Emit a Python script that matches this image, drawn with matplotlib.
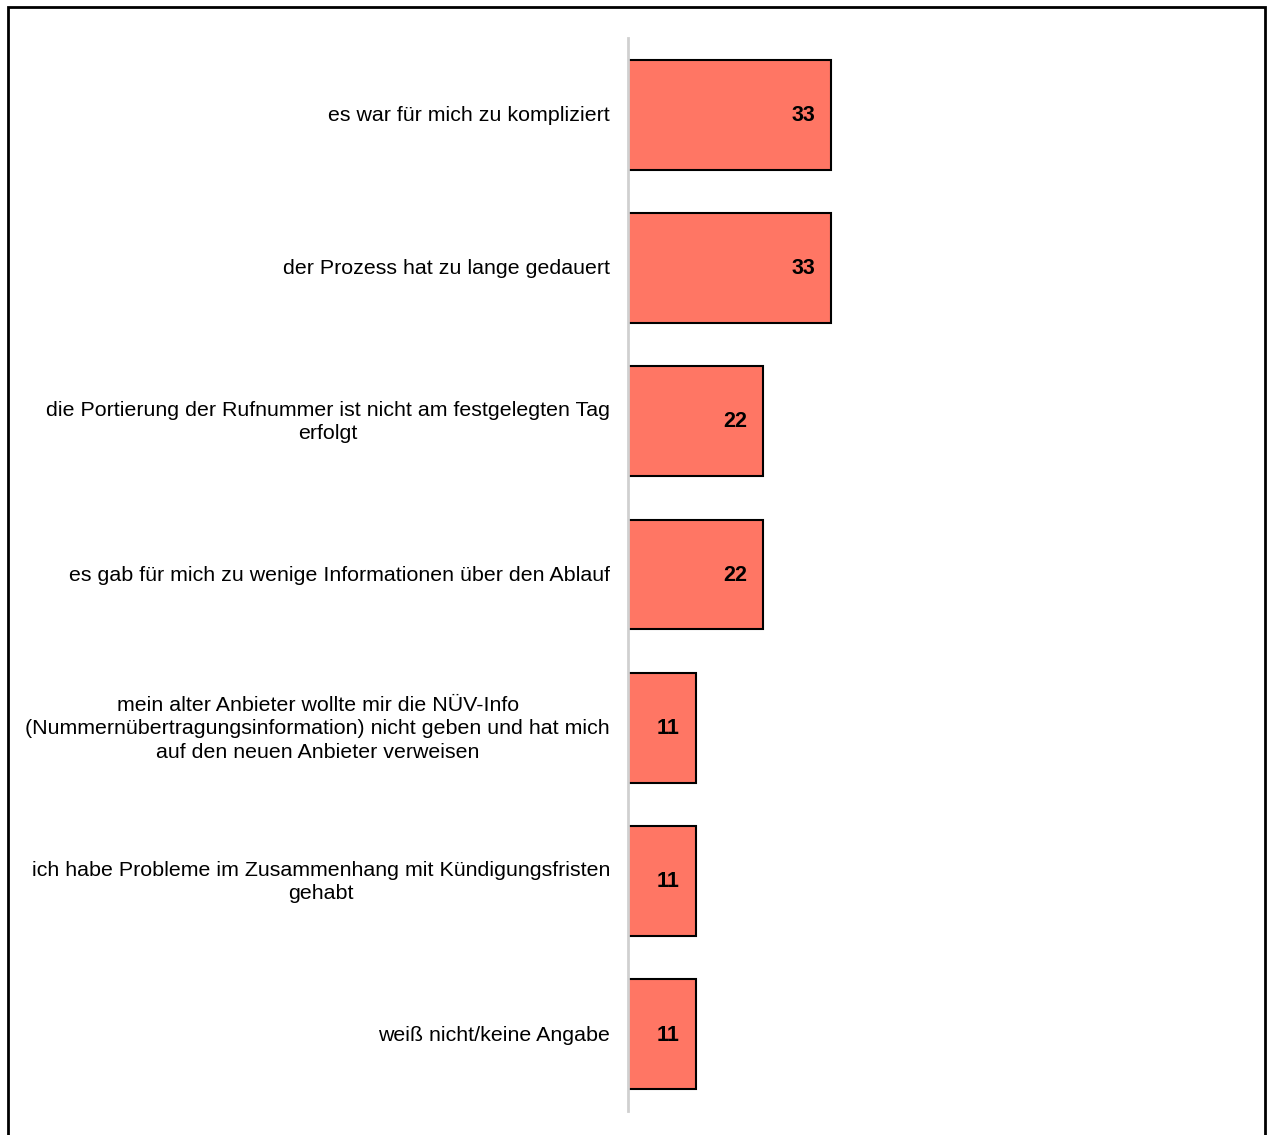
import matplotlib
matplotlib.use("Agg")
import matplotlib.pyplot as plt
from matplotlib.patches import Rectangle
from matplotlib.transforms import ScaledTranslation

categories = [
    "es war für mich zu kompliziert",
    "der Prozess hat zu lange gedauert",
    "die Portierung der Rufnummer ist nicht am festgelegten Tag\nerfolgt",
    "es gab für mich zu wenige Informationen über den Ablauf",
    "mein alter Anbieter wollte mir die NÜV-Info\n(Nummernübertragungsinformation) nicht geben und hat mich\nauf den neuen Anbieter verweisen",
    "ich habe Probleme im Zusammenhang mit Kündigungsfristen\ngehabt",
    "weiß nicht/keine Angabe",
]
values = [33, 33, 22, 22, 11, 11, 11]

W, H = 1270, 1135
fig = plt.figure(figsize=(W / 100, H / 100), dpi=100)
plt.rcParams["font.family"] = ["Liberation Sans", "DejaVu Sans"]

# outer frame (runs off the bottom edge)
fig.patches.append(Rectangle((8 / W, -0.01), (1265 - 8) / W, 1.01 - 7 / H,
                             transform=fig.transFigure, fill=False,
                             edgecolor="black", linewidth=2))

ax_left, ax_right = 628, 1250
ax_top, ax_bottom = 38, 1111
ax = fig.add_axes([ax_left / W, 1 - ax_bottom / H,
                   (ax_right - ax_left) / W, (ax_bottom - ax_top) / H])

px_per_unit = 203 / 33
ax.set_xlim(0, (ax_right - ax_left) / px_per_unit)
ax.set_ylim(len(values) - 0.5, -0.5)

ypos = list(range(len(values)))
ax.barh(ypos, values, height=0.717, color="#FF7664", edgecolor="black",
        linewidth=1.5, zorder=2)

for y, v in zip(ypos, values):
    ax.annotate(str(v), xy=(v, y), xytext=(-11.5, -0.5), textcoords="offset points",
                ha="right", va="center", fontsize=15.5, fontweight="bold",
                color="black", zorder=3)

ax.set_yticks(ypos)
ax.set_yticklabels(categories, fontsize=15.4, multialignment="center",
                   linespacing=1.28)
ax.tick_params(axis="y", length=0, pad=13)
ax.set_xticks([])

# wrapped labels sit a touch higher than single-line ones
for lbl in ax.get_yticklabels():
    if "\n" in lbl.get_text():
        lbl.set_transform(lbl.get_transform() +
                          ScaledTranslation(0, 3 / 100, fig.dpi_scale_trans))
    else:
        lbl.set_transform(lbl.get_transform() +
                          ScaledTranslation(0, 1 / 100, fig.dpi_scale_trans))

for s in ("top", "right", "bottom"):
    ax.spines[s].set_visible(False)
ax.spines["left"].set_color("#D0D0D0")
ax.spines["left"].set_linewidth(2)
ax.patch.set_visible(False)

fig.savefig("out.png", dpi=100)
